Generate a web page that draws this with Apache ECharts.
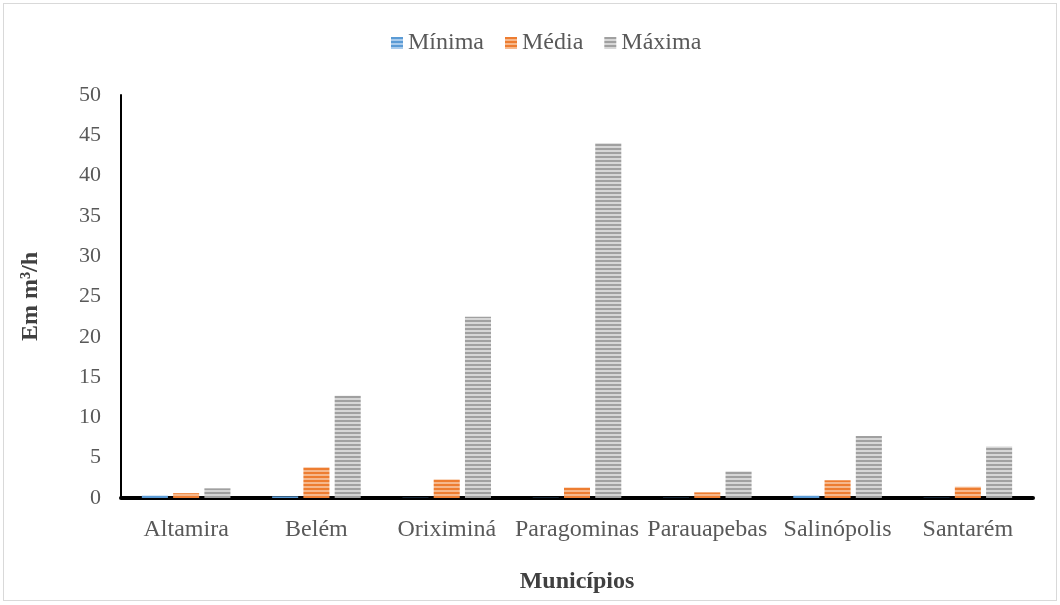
<!DOCTYPE html>
<html>
<head>
<meta charset="utf-8">
<script src="https://cdn.jsdelivr.net/npm/echarts@6/dist/echarts.min.js"></script>
<style>
html,body{margin:0;padding:0;background:#fff;}
#chart{position:absolute;left:3px;top:3px;width:1052px;height:596px;border:1px solid #d9d9d9;}
</style>
</head>
<body>
<div id="chart"></div>
<script>
var categories = ['Altamira', 'Belém', 'Oriximiná', 'Paragominas', 'Parauapebas', 'Salinópolis', 'Santarém'];
var minima = [0.3, 0.2, 0.03, 0.03, 0.03, 0.3, 0.03];
var media = [0.6, 3.8, 2.3, 1.3, 0.7, 2.2, 1.4];
var maxima = [1.2, 12.7, 22.5, 44.0, 3.3, 7.7, 6.4];
var yTicks = [0, 5, 10, 15, 20, 25, 30, 35, 40, 45, 50];

// horizontal stripes like the excel fill
function stripes(dark, light){
	var c = document.createElement('canvas');
	c.width = 4; c.height = 4;
	var ctx = c.getContext('2d');
	ctx.fillStyle = light; ctx.fillRect(0, 0, 4, 4);
	ctx.fillStyle = dark; ctx.fillRect(0, 0, 4, 2);
	return {image: c, repeat: 'repeat'};
}

var serif = '"Liberation Serif", "Times New Roman", serif';
var myChart = echarts.init(document.getElementById('chart'));

var option = {
	animation: false,
	textStyle: {fontFamily: serif},
	legend: {
		top: 22,
		left: 382,
		icon: 'rect',
		itemWidth: 12,
		itemHeight: 12,
		itemGap: 21,
		textStyle: {fontFamily: serif, fontSize: 24, color: '#595959', padding: [0, 0, 0, 0]},
		data: ['Mínima', 'Média', 'Máxima']
	},
	grid: {left: 117, right: 23, top: 91, bottom: 102},
	xAxis: {
		type: 'category',
		data: categories,
		name: 'Municípios',
		nameLocation: 'middle',
		nameGap: 72,
		nameTextStyle: {fontFamily: serif, fontSize: 24, fontWeight: 'bold', color: '#404040'},
		axisLine: {lineStyle: {color: '#000', width: 4}},
		axisTick: {show: false},
		axisLabel: {fontFamily: serif, fontSize: 24, color: '#595959', margin: 20, interval: 0, hideOverlap: false}
	},
	yAxis: {
		type: 'value',
		min: yTicks[0],
		max: yTicks[yTicks.length - 1],
		interval: 5,
		name: 'Em m³/h',
		nameLocation: 'middle',
		nameGap: 78,
		nameTextStyle: {fontFamily: serif, fontSize: 24, fontWeight: 'bold', color: '#404040'},
		axisLine: {show: true, lineStyle: {color: '#000', width: 2}},
		axisTick: {show: false},
		splitLine: {show: false},
		axisLabel: {fontFamily: serif, fontSize: 22, color: '#595959', margin: 20}
	},
	series: [
		{name: 'Mínima', type: 'bar', data: minima, barWidth: '20%', barGap: '20%',
			itemStyle: {color: stripes('#5b9bd5', '#a9cbec')}},
		{name: 'Média', type: 'bar', data: media, barWidth: '20%', barGap: '20%',
			itemStyle: {color: stripes('#ed7d31', '#f6b88c')}},
		{name: 'Máxima', type: 'bar', data: maxima, barWidth: '20%', barGap: '20%',
			itemStyle: {color: stripes('#a0a0a0', '#d6d6d6')}}
	]
};

myChart.setOption(option);
</script>
</body>
</html>
